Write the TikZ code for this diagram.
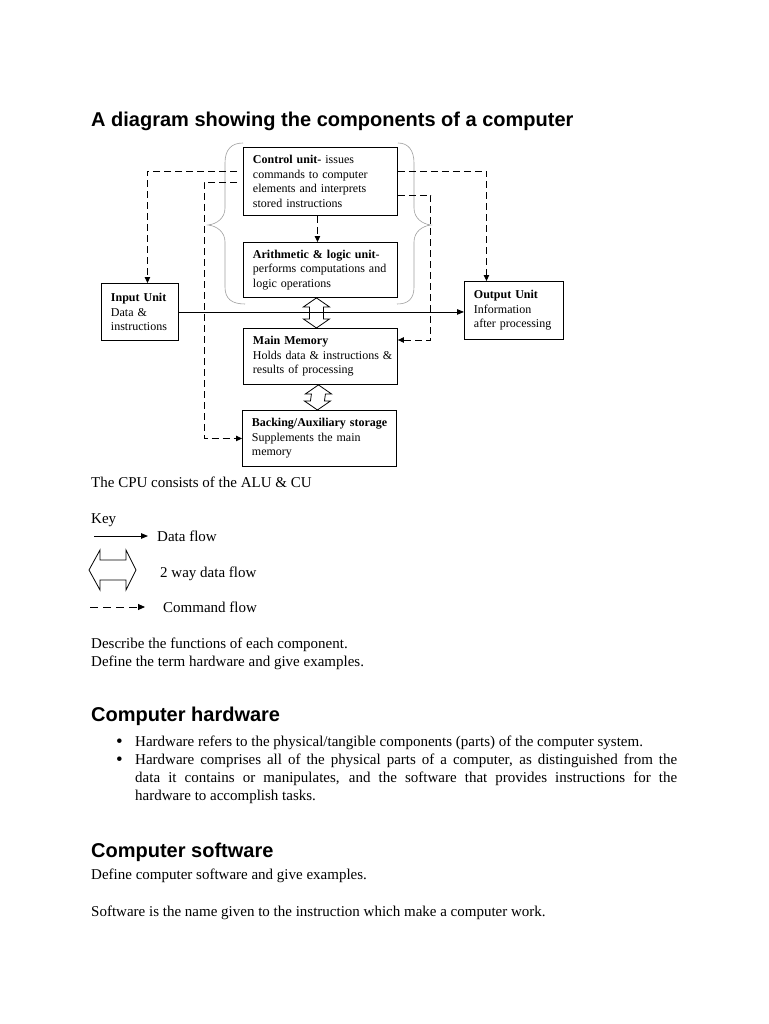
\documentclass[tikz,border=0pt]{standalone}
\usepackage{fontspec}
\setmainfont{Liberation Serif}
\newfontfamily\headfont{Liberation Sans}
\usetikzlibrary{arrows.meta,calc}
\newcommand\twowayV[2]{%
  \draw[twoway] (#1) -- ++(13,9) -- ++(-6,0) -- ($(#2)+(7,-9)$) -- ++(6,0) -- (#2)
    -- ++(-13,-9) -- ++(6,0) -- ($(#1)+(-7,9)$) -- ++(-6,0) -- cycle;}
\newcommand\bxln[1]{\mbox{#1}}
\begin{document}
\begin{tikzpicture}[x=1pt,y=-1pt,
  box/.style={draw, line width=0.9pt, anchor=north west, inner xsep=9.5pt, inner ysep=0pt,
    align=left, font=\fontsize{12}{14.5}\selectfont},
  cmd/.style={draw, line width=0.9pt, dash pattern=on 7pt off 4pt, -{Triangle[length=6pt,width=5.5pt]}},
  data/.style={draw, line width=0.9pt, -{Triangle[length=7pt,width=5.5pt]}},
  brace/.style={draw=gray!75, line width=0.6pt},
  twoway/.style={draw, line width=0.8pt, line join=miter},
  body/.style={anchor=base west, inner sep=0pt, font=\fontsize{15}{18.2}\selectfont},
  bul/.style={anchor=base west, inner sep=0pt, font=\fontsize{19}{18.2}\selectfont},
  head/.style={anchor=base west, inner sep=0pt, font=\headfont\bfseries\fontsize{20}{24}\selectfont}
]
\fill[white] (0,0) rectangle (768,1024);
\useasboundingbox (0,0) rectangle (768,1024);

% title
\node[head] (title) at (91,127) {A diagram showing the components of a computer};

% braces
\draw[brace] (243,143) .. controls (231,143) and (225,150) .. (225,163) -- (225,208)
  .. controls (225,218) and (217,224) .. (208,225) .. controls (217,226) and (225,232) .. (225,242)
  -- (225,287) .. controls (225,299) and (232,304) .. (245,304);
\draw[brace] (398,143) .. controls (408,143) and (414,150) .. (414,163) -- (414,208)
  .. controls (414,218) and (422,224) .. (431,225) .. controls (422,226) and (414,232) .. (414,242)
  -- (414,287) .. controls (414,299) and (408,304) .. (397,304);

% boxes
\node[box, text width=135pt, minimum height=68pt] (cu) at (243,147)
  {\bxln{\textbf{Control unit-} issues}\\\bxln{commands to computer}\\\bxln{elements and interprets}\\\bxln{stored instructions}};
\node[box, text width=135pt, minimum height=55pt] (alu) at (243,242)
  {\bxln{\textbf{Arithmetic \& logic unit}-}\\\bxln{performs computations and}\\\bxln{logic operations}};
\node[box, text width=58pt, minimum height=57pt] (inp) at (101,283)
  {\bxln{\textbf{Input Unit}}\\\bxln{Data \&}\\\bxln{instructions}};
\node[box, text width=80pt, minimum height=58pt] (outp) at (464,281)
  {\bxln{\textbf{Output Unit}}\\\bxln{Information}\\\bxln{after processing}};
\node[box, text width=135pt, minimum height=56pt] (mm) at (243,328)
  {\bxln{\textbf{Main Memory}}\\\bxln{Holds data \& instructions \&}\\\bxln{results of processing}};
\node[box, text width=135pt, minimum height=56pt] (bs) at (242,410)
  {\bxln{\textbf{Backing/Auxiliary storage}}\\\bxln{Supplements the main}\\\bxln{memory}};

% command flow
\draw[cmd] ($(cu.north west)+(-6,24)$) -| ([xshift=7.5pt]inp.north);
\draw[cmd] ($(cu.north west)+(-6,35)$) -| ($(bs.west)+(-38,0)$) -- (bs.west);
\draw[cmd] ($(cu.north east)+(0,24)$) -| ([xshift=-27.5pt]outp.north);
\draw[cmd] ($(cu.north east)+(0,48)$) -| ($(mm.north east)+(33,12)$) -- ($(mm.north east)+(0,12)$);
\draw[cmd] ([xshift=-3pt]cu.south) -- ([xshift=-3pt]alu.north);

% data flow
\draw[data] (inp.east) -- (inp.east -| outp.west);

% two way
\coordinate (d1t) at ([xshift=-4pt]alu.south);
\coordinate (d1b) at ([xshift=-4pt]mm.north);
\coordinate (d2t) at ([xshift=-2pt]mm.south);
\coordinate (d2b) at ([xshift=-2pt]bs.north);
\twowayV{d1t}{d1b}
\twowayV{d2t}{d2b}

% text below
\node[body] (cpu) at (91,487) {The CPU consists of the ALU \& CU};
\node[body] (key) at (91,523) {Key};
\coordinate (kd1) at (94,536);
\coordinate (kd2) at (148,536);
\draw[data] (kd1) -- (kd2);
\node[body] (kdata) at (157,541) {Data flow};
\draw[twoway] (89,570) -- (100,550) -- (100,560) -- (126,560) -- (126,550) -- (136,570)
  -- (126,590) -- (126,580) -- (100,580) -- (100,590) -- cycle;
\node[body] (k2way) at (160,577) {2 way data flow};
\coordinate (kc1) at (90,607);
\coordinate (kc2) at (145,607);
\draw[cmd, dash pattern=on 8pt off 5pt, -{Triangle[length=7pt,width=6pt]}] (kc1) -- (kc2);
\node[body] (kcmd) at (163,612) {Command flow};
\node[body] (desc) at (91,648) {Describe the functions of each component.};
\node[body] (defhw) at (91,666) {Define the term hardware and give examples.};

\node[head] (hhw) at (91,721) {Computer hardware};
\node[bul] (b1) at (116,747) {•};
\node[body] (t1) at (135,746) {Hardware refers to the physical/tangible components (parts) of the computer system.};
\node[bul] (b2) at (116,765) {•};
\node[body, text width=542pt, align=justify] (t2) at (135,764)
  {Hardware comprises all of the physical parts of a computer, as distinguished from the\linebreak
   data it contains or manipulates, and the software that provides instructions for the\linebreak
   hardware to accomplish tasks.};

\node[head] (hsw) at (91,857) {Computer software};
\node[body] (defsw) at (91,879) {Define computer software and give examples.};
\node[body] (swis) at (91,916) {Software is the name given to the instruction which make a computer work.};
\end{tikzpicture}
\end{document}
